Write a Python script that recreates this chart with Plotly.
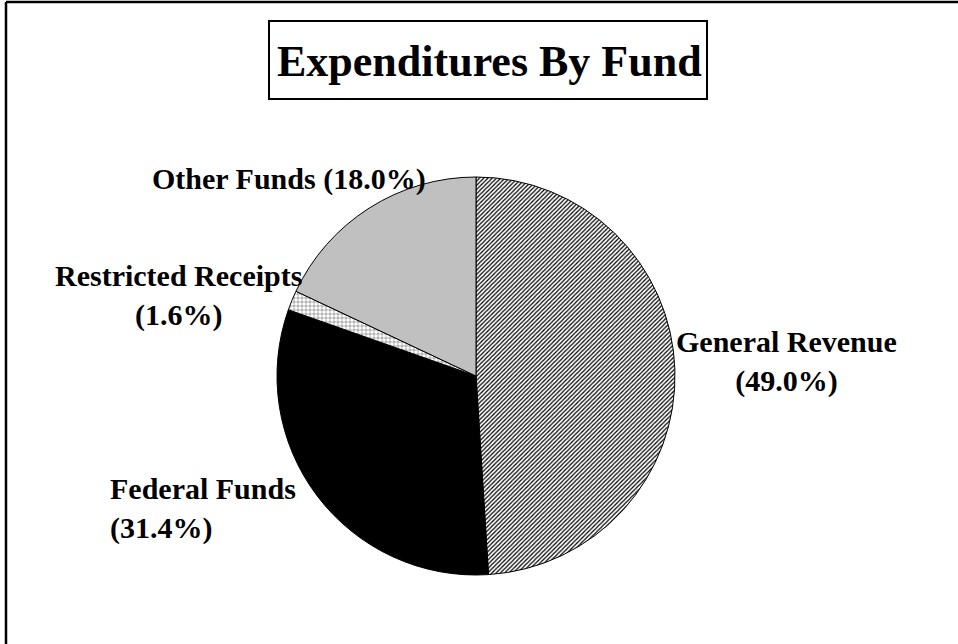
import plotly.graph_objects as go

W, H = 958, 644

funds = ["General Revenue", "Federal Funds", "Restricted Receipts", "Other Funds"]
shares = [49.0, 31.4, 1.6, 18.0]
label_texts = [
    "General Revenue<br>(49.0%)",
    "Federal Funds<br>(31.4%)",
    "Restricted Receipts<br>(1.6%)",
    "Other Funds (18.0%)",
]
title_text = "Expenditures By Fund"

FONT = "Liberation Serif, Times New Roman, serif"

def px(x):
    return x / W

def py(y):
    return 1 - y / H

cx, cy, r = 476, 376, 199

fig = go.Figure()
fig.add_trace(go.Pie(
    labels=funds,
    values=shares,
    sort=False,
    direction="clockwise",
    rotation=0,
    textinfo="none",
    hoverinfo="label+percent",
    showlegend=False,
    domain=dict(x=[px(cx - r), px(cx + r)], y=[py(cy + r), py(cy - r)]),
    marker=dict(
        colors=["white", "black", "white", "#c0c0c0"],
        line=dict(color="black", width=1),
        pattern=dict(
            shape=["/", "", "+", ""],
            fgcolor=["black", "black", "black", "black"],
            bgcolor=["white", "black", "white", "#c0c0c0"],
            size=[3, 4, 4, 4],
            solidity=[0.4, 0.3, 0.15, 0.3],
        ),
    ),
))

lab_font = dict(family=FONT, size=30, color="black")
annots = [
    dict(text="<b>" + label_texts[0] + "</b>", x=px(786), y=py(361), xanchor="center", yanchor="middle", align="center"),
    dict(text="<b>" + label_texts[1] + "</b>", x=px(108), y=py(508), xanchor="left", yanchor="middle", align="left"),
    dict(text="<b>" + label_texts[2] + "</b>", x=px(178), y=py(295), xanchor="center", yanchor="middle", align="center"),
    dict(text="<b>" + label_texts[3] + "</b>", x=px(289), y=py(179), xanchor="center", yanchor="middle", align="center"),
]
for a in annots:
    a.update(xref="paper", yref="paper", showarrow=False, font=lab_font)

annots.append(dict(
    text="<b>" + title_text + "</b>", x=px(489), y=py(61), xref="paper", yref="paper",
    xanchor="center", yanchor="middle", showarrow=False,
    font=dict(family=FONT, size=44, color="black"),
))

shapes = [
    dict(type="rect", xref="paper", yref="paper", x0=px(269), x1=px(707), y0=py(99), y1=py(21),
         line=dict(color="black", width=2), fillcolor="rgba(0,0,0,0)"),
    dict(type="line", xref="paper", yref="paper", x0=px(6), x1=px(958), y0=py(2), y1=py(2),
         line=dict(color="black", width=2.5)),
    dict(type="line", xref="paper", yref="paper", x0=px(6), x1=px(6), y0=py(2), y1=py(644),
         line=dict(color="black", width=2.5)),
]

fig.update_layout(
    width=W, height=H,
    margin=dict(l=0, r=0, t=0, b=0),
    paper_bgcolor="white", plot_bgcolor="white",
    annotations=annots, shapes=shapes,
)

fig.write_html("out.html")
